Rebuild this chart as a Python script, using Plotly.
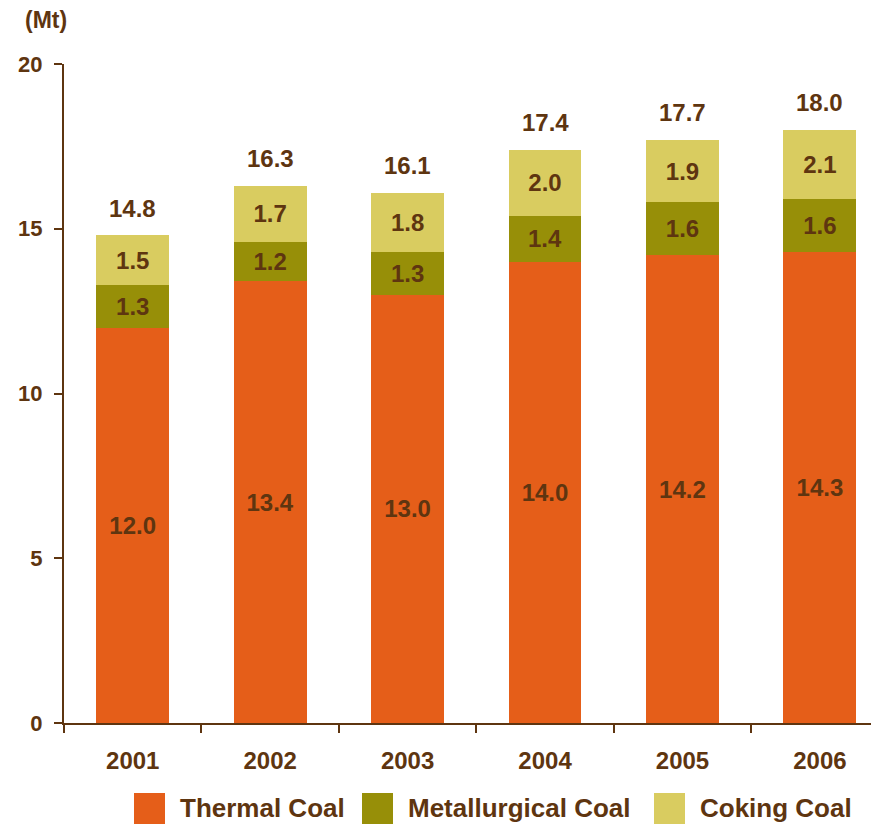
import plotly.graph_objects as go

years = ["2001", "2002", "2003", "2004", "2005", "2006"]
thermal = [12.0, 13.4, 13.0, 14.0, 14.2, 14.3]
metallurgical = [1.3, 1.2, 1.3, 1.4, 1.6, 1.6]
coking = [1.5, 1.7, 1.8, 2.0, 1.9, 2.1]
totals = [14.8, 16.3, 16.1, 17.4, 17.7, 18.0]
series_names = ["Thermal Coal", "Metallurgical Coal", "Coking Coal"]
colors = ["#E55E19", "#978F08", "#D9CC60"]

BROWN = "#5E3510"
FONT = "Liberation Sans, Arial, sans-serif"
OFF = 8  # page body margin
PW, PH = 879, 825
W, H = PW - OFF, PH - OFF
ML, MR, MT, MB = 64 - OFF, 0, 64 - OFF, PH - 723

fig = go.Figure()
for name, vals, col in zip(series_names, [thermal, metallurgical, coking], colors):
    fig.add_trace(go.Bar(
        x=years, y=vals, name=name, marker=dict(color=col, line=dict(width=0)),
        width=0.53, text=[f"{v:.1f}" for v in vals], textposition="inside",
        insidetextanchor="middle", textangle=0,
        textfont=dict(color=BROWN, size=24, family=FONT, weight="bold"),
        showlegend=False, hoverinfo="skip",
    ))

# totals above bars (category index on the category axis)
for i, t in enumerate(totals):
    fig.add_annotation(x=i, y=t, xref="x", yref="y", text=f"{t:.1f}", showarrow=False,
                       yshift=27, font=dict(color=BROWN, size=24, family=FONT, weight="bold"))

pw = W - ML - MR
ph = H - MT - MB
def px_x(v):
    return (v - OFF - ML) / pw
def px_y(v):
    return (PH - MB - v) / ph

fig.add_annotation(xref="paper", yref="paper", x=px_x(46), y=px_y(20),
                   text="(Mt)", showarrow=False, xanchor="center", yanchor="middle",
                   font=dict(color=BROWN, size=23, family=FONT, weight="bold"))

# custom legend
legend_sq = [134, 362, 654]
for name, col, sx in zip(series_names, colors, legend_sq):
    fig.add_shape(type="rect", xref="paper", yref="paper",
                  x0=px_x(sx), x1=px_x(sx + 31), y0=px_y(824), y1=px_y(793),
                  fillcolor=col, line=dict(width=0))
    fig.add_annotation(xref="paper", yref="paper", x=px_x(sx + 44), y=px_y(808),
                       text=name, showarrow=False, xanchor="left",
                       yanchor="middle", font=dict(color=BROWN, size=26, family=FONT, weight="bold"))

fig.update_layout(
    width=W, height=H, barmode="stack", bargap=0.47,
    margin=dict(l=ML, r=MR, t=MT, b=MB),
    plot_bgcolor="white", paper_bgcolor="white",
    font=dict(family=FONT, color=BROWN),
    xaxis=dict(type="category", range=[-0.5, 5.43], showline=True, linecolor=BROWN, linewidth=2,
               ticks="outside", tickson="boundaries", ticklen=8, tickcolor=BROWN,
               tickwidth=2, showgrid=False,
               tickfont=dict(size=24, color=BROWN, family=FONT, weight="bold"),
               ticklabelstandoff=15),
    yaxis=dict(range=[0, 20], showline=True, linecolor=BROWN, linewidth=2,
               ticks="outside", ticklen=8, tickcolor=BROWN, tickwidth=2,
               tickvals=[0, 5, 10, 15, 20], showgrid=False, zeroline=False,
               tickfont=dict(size=22, color=BROWN, family=FONT, weight="bold"),
               ticklabelstandoff=7),
)

fig.write_html("out.html")
